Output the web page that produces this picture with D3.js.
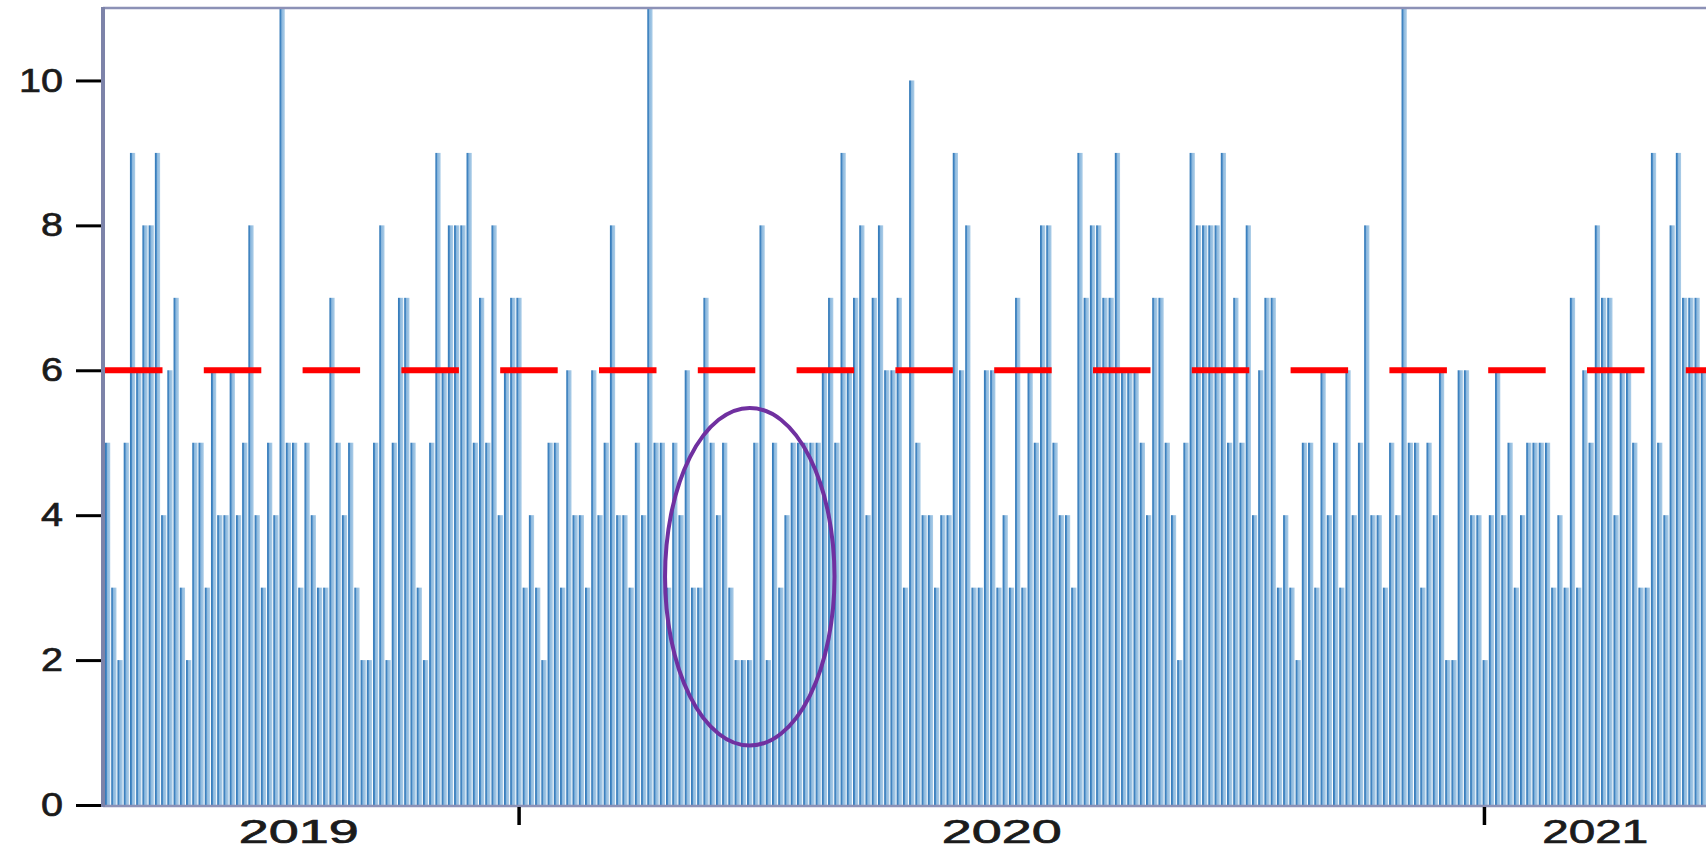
<!DOCTYPE html>
<html><head><meta charset="utf-8">
<script src="https://cdn.jsdelivr.net/npm/d3@7"></script>
<style>body{margin:0;background:#fff;} svg{display:block;}</style>
</head><body>
<svg id="chart" width="1706" height="850"></svg>
<script>
// ---- data ----
const values = [
  5,3,2,5,9,6,8,8,9,4,6,7,3,2,5,5,3,6,4,4,6,4,5,
  8,4,3,5,4,11,5,5,3,5,4,3,3,7,5,4,5,3,2,2,5,8,2,
  5,7,7,5,3,2,5,9,6,8,8,8,9,5,7,5,8,4,6,7,7,3,4,3,
  2,5,5,3,6,4,4,3,6,4,5,8,4,4,3,5,4,11,5,5,3,5,4,
  6,3,3,7,5,4,5,3,2,2,2,5,8,2,5,3,4,5,5,5,5,5,6,
  7,5,9,6,7,8,4,7,8,6,6,7,3,10,5,4,4,3,4,4,9,6,8,
  3,3,6,6,3,4,3,7,3,6,5,8,8,5,4,4,3,9,7,8,8,7,7,9,
  6,6,6,5,4,7,7,5,4,2,5,9,8,8,8,8,9,5,7,5,8,
  4,6,7,7,3,4,3,2,5,5,3,6,4,5,3,6,4,5,8,4,4,3,5,
  4,11,5,5,3,5,4,6,2,2,6,6,4,4,2,4,6,4,5,3,4,5,5,5,
  5,3,4,3,7,3,6,5,8,7,7,4,6,6,5,3,3,9,5,4,8,9,7,7,7,6
];
const yTickValues = [0, 2, 4, 6, 8, 10];
const yMax = 11;
const yearLabels = ["2019", "2020", "2021"];
const startDate = new Date(2019, 6, 28);
const endDate = new Date(2021, 2, 26);
const threshold = 6;
// highlighted region (in bar-index / value units)
const highlightIndex = [89.9, 117.1];
const highlightValue = [0.82, 5.48];

// ---- layout ----
const W = 1706, H = 850;
const m = {left: 105, right: 0, top: 8, bottom: 45};
const svg = d3.select("#chart");

const x = d3.scaleBand().domain(d3.range(values.length))
  .range([m.left, W - m.right]).paddingInner(0.16).paddingOuter(0);
const xi = d3.scaleLinear().domain([0, values.length]).range([m.left, W - m.right]);
const y = d3.scaleLinear().domain([0, yMax]).range([H - m.bottom, m.top]);
const t = d3.scaleTime().domain([startDate, endDate]).range([m.left, W - m.right]);

const defs = svg.append("defs");
const g = defs.append("linearGradient").attr("id", "barGrad")
  .attr("x1", "0%").attr("x2", "100%").attr("y1", "0%").attr("y2", "0%");
g.append("stop").attr("offset", "0%").attr("stop-color", "#2e76b6");
g.append("stop").attr("offset", "30%").attr("stop-color", "#4a8bc6");
g.append("stop").attr("offset", "42%").attr("stop-color", "#8ab7dd");
g.append("stop").attr("offset", "100%").attr("stop-color", "#adcee8");

// bars
svg.append("g").selectAll("rect").data(values).join("rect")
  .attr("x", (d, i) => x(i))
  .attr("width", x.bandwidth())
  .attr("y", d => y(Math.min(d, yMax)))
  .attr("height", d => y(0) - y(Math.min(d, yMax)))
  .attr("fill", "url(#barGrad)");

// threshold line
svg.append("line")
  .attr("x1", m.left).attr("x2", W)
  .attr("y1", y(threshold)).attr("y2", y(threshold))
  .attr("stroke", "#ff0000").attr("stroke-width", 6)
  .attr("stroke-dasharray", "57.5 41.3");

// frame lines
svg.append("line").attr("x1", m.left - 2).attr("x2", W).attr("y1", y(yMax)).attr("y2", y(yMax))
  .attr("stroke", "#8c91b6").attr("stroke-width", 2.5);
svg.append("line").attr("x1", m.left - 2).attr("x2", W).attr("y1", y(0) + 1).attr("y2", y(0) + 1)
  .attr("stroke", "#8c91b6").attr("stroke-width", 2.5);
svg.append("line").attr("x1", m.left - 2).attr("x2", m.left - 2).attr("y1", y(yMax) - 1).attr("y2", y(0) + 2)
  .attr("stroke", "#7d83a9").attr("stroke-width", 4);

// y axis
const yAxis = svg.append("g").attr("transform", `translate(${m.left - 4},0)`)
  .call(d3.axisLeft(y).tickValues(yTickValues).tickSize(25).tickPadding(13));
yAxis.select(".domain").remove();
yAxis.selectAll(".tick line").attr("stroke", "#000").attr("stroke-width", 3);
yAxis.selectAll(".tick text")
  .attr("font-family", "Liberation Sans, Arial, sans-serif")
  .attr("font-size", 33).attr("fill", "#1b1b1b")
  .attr("stroke", "#1b1b1b").attr("stroke-width", 0.7)
  .attr("textLength", d => String(d).length * 22)
  .attr("lengthAdjust", "spacingAndGlyphs");

// x axis (years)
const xAxisG = svg.append("g");
const boundaries = t.ticks(d3.timeYear.every(1));
xAxisG.selectAll("line").data(boundaries).join("line")
  .attr("x1", d => t(d)).attr("x2", d => t(d))
  .attr("y1", y(0) + 2).attr("y2", y(0) + 20)
  .attr("stroke", "#000").attr("stroke-width", 3.5);
const labelStart = d3.timeDay.offset(startDate, -10);
const spans = yearLabels.map(lbl => {
  const yr = +lbl;
  const a = new Date(Math.max(labelStart, new Date(yr, 0, 1)));
  const b = new Date(Math.min(endDate, new Date(yr + 1, 0, 1)));
  return {lbl, mid: (t(a) + t(b)) / 2};
});
xAxisG.selectAll("text").data(spans).join("text")
  .attr("x", d => d.mid).attr("y", H - 7)
  .attr("text-anchor", "middle")
  .attr("font-family", "Liberation Sans, Arial, sans-serif")
  .attr("font-size", 34).attr("fill", "#1b1b1b")
  .attr("stroke", "#1b1b1b").attr("stroke-width", 0.7)
  .attr("textLength", d => d.lbl === "2021" ? 106 : 120)
  .attr("lengthAdjust", "spacingAndGlyphs")
  .text(d => d.lbl);

// highlight ellipse
svg.append("ellipse")
  .attr("cx", (xi(highlightIndex[0]) + xi(highlightIndex[1])) / 2)
  .attr("rx", (xi(highlightIndex[1]) - xi(highlightIndex[0])) / 2)
  .attr("cy", (y(highlightValue[0]) + y(highlightValue[1])) / 2)
  .attr("ry", (y(highlightValue[0]) - y(highlightValue[1])) / 2)
  .attr("fill", "none").attr("stroke", "#7030a0").attr("stroke-width", 4);
</script>
</body></html>
